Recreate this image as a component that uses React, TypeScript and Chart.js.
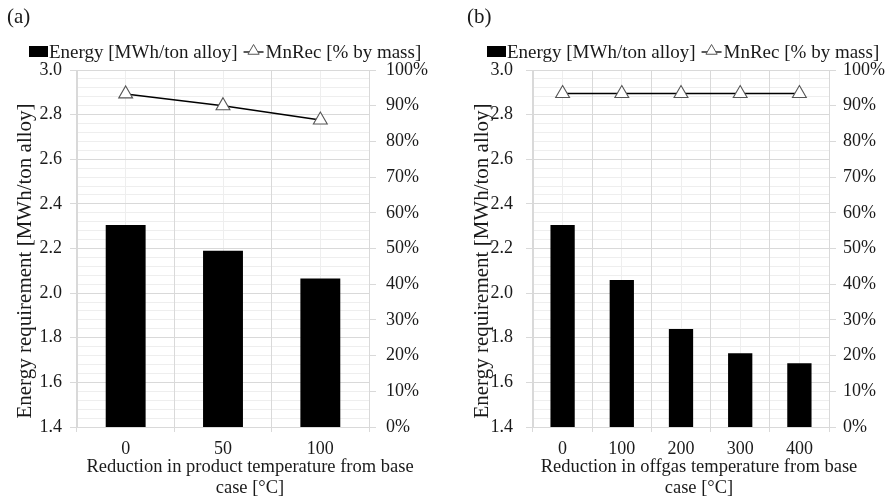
import React, { useEffect, useRef } from "react";
import { Chart, registerables } from "chart.js";

Chart.register(...registerables);

// ---------- data ----------
const categoriesA = ["0", "50", "100"];
const energyA = [2.305, 2.19, 2.066];
const mnRecA = [93.3, 90.0, 86.0];

const categoriesB = ["0", "100", "200", "300", "400"];
const energyB = [2.305, 2.059, 1.839, 1.73, 1.686];
const mnRecB = [93.4, 93.4, 93.4, 93.4, 93.4];

const energyMin = 1.4;
const energyMax = 3.0;
const energyStep = 0.2;
const pctMin = 0;
const pctMax = 100;
const pctStep = 10;

const legendEnergy = "Energy [MWh/ton alloy]";
const legendMnRec = "MnRec [% by mass]";
const yTitle = "Energy requirement [MWh/ton alloy]";
const xTitleA = ["Reduction in product temperature from base", "case [°C]"];
const xTitleB = ["Reduction in offgas temperature from base", "case [°C]"];

const FONT = "'Liberation Serif', 'DejaVu Serif', serif";
const TEXT = "#1a1a1a";
const MAJOR = "#d9d9d9";
const MINOR = "#eeeeee";

type PanelProps = {
  label: string;
  categories: string[];
  energy: number[];
  mnRec: number[];
  xTitle: string[];
  width: number;
  left: number;
  plotLeft: number;
  plotRight: number;
  leftPad: number;
  rightPad: number;
  yTitleX: number;
  xTitleX: number;
  legendX: number;
  labelX: number;
};

function Panel(p: PanelProps) {
  const ref = useRef<HTMLCanvasElement | null>(null);
  useEffect(() => {
    const canvas = ref.current;
    if (!canvas) return;
    const H = 498;
    const plotTop = 70;
    const plotBottom = 427;
    let chart: any = null;
    let cancelled = false;

    const textPlugin = {
      id: "texts",
      beforeDraw(c: any) {
        const ctx = c.ctx;
        ctx.save();
        ctx.fillStyle = "#fff";
        ctx.fillRect(0, 0, c.width, c.height);
        ctx.restore();
      },
      afterDraw(c: any) {
        const ctx = c.ctx as CanvasRenderingContext2D;
        ctx.save();
        ctx.fillStyle = TEXT;
        ctx.font = `21px ${FONT}`;
        ctx.textAlign = "left";
        ctx.textBaseline = "middle";
        ctx.fillText(p.label, p.labelX, 17);

        ctx.font = `19px ${FONT}`;
        ctx.textBaseline = "alphabetic";
        let x = p.legendX;
        const base = 58;
        ctx.fillStyle = "#000";
        ctx.fillRect(x, 46, 19, 11);
        x += 20;
        ctx.fillStyle = TEXT;
        ctx.fillText(legendEnergy, x, base);
        x += ctx.measureText(legendEnergy).width + 6;
        ctx.strokeStyle = "#000";
        ctx.lineWidth = 1.3;
        ctx.beginPath();
        ctx.moveTo(x, 52);
        ctx.lineTo(x + 20, 52);
        ctx.stroke();
        const cx = x + 10, cy = 51, r = 6.5;
        ctx.beginPath();
        ctx.moveTo(cx, cy - r);
        ctx.lineTo(cx + r * 0.866, cy + r * 0.5);
        ctx.lineTo(cx - r * 0.866, cy + r * 0.5);
        ctx.closePath();
        ctx.fillStyle = "#fff";
        ctx.fill();
        ctx.strokeStyle = "#555";
        ctx.lineWidth = 1;
        ctx.stroke();
        x += 22;
        ctx.fillStyle = TEXT;
        ctx.fillText(legendMnRec, x, base);

        ctx.save();
        ctx.font = `21px ${FONT}`;
        ctx.translate(p.yTitleX, 261);
        ctx.rotate(-Math.PI / 2);
        ctx.textAlign = "center";
        ctx.textBaseline = "middle";
        ctx.fillText(yTitle, 0, 0);
        ctx.restore();

        ctx.font = `18.5px ${FONT}`;
        ctx.textAlign = "center";
        ctx.textBaseline = "middle";
        ctx.fillText(p.xTitle[0], p.xTitleX, 467);
        ctx.fillText(p.xTitle[1], p.xTitleX, 488);
        ctx.restore();
      },
    };

    const tickFont = { family: FONT, size: 18 };

    const build = () => {
      if (cancelled) return;
      chart = new Chart(canvas, {
        type: "bar",
        data: {
          labels: p.categories,
          datasets: [
            {
              type: "line",
              label: legendMnRec,
              data: p.mnRec,
              yAxisID: "y1",
              xAxisID: "x",
              borderColor: "#000",
              borderWidth: 1.5,
              pointStyle: "triangle",
              pointRadius: 8,
              pointBackgroundColor: "#fff",
              pointBorderColor: "#555",
              pointBorderWidth: 1.1,
              tension: 0,
              order: 0,
            } as any,
            {
              type: "bar",
              label: legendEnergy,
              data: p.energy,
              yAxisID: "y",
              xAxisID: "x",
              backgroundColor: "#000",
              borderWidth: 0,
              categoryPercentage: 0.41,
              barPercentage: 1.0,
              order: 1,
            } as any,
          ],
        },
        options: {
          responsive: false,
          animation: false,
          layout: { padding: { top: plotTop, left: 0, right: 0, bottom: 0 } },
          plugins: {
            legend: { display: false },
            tooltip: { enabled: false },
            title: { display: false },
          },
          scales: {
            x: {
              type: "category",
              offset: true,
              grid: { offset: true, color: MAJOR, tickLength: 5, lineWidth: 1 },
              border: { color: MAJOR },
              ticks: { font: tickFont, color: TEXT, padding: 6, maxRotation: 0 },
              afterFit: (s: any) => {
                s.height = H - plotBottom;
              },
            },
            xc: {
              type: "category",
              position: "bottom",
              offset: true,
              grid: { offset: false, color: MINOR, drawTicks: false, z: -2 },
              border: { display: false },
              ticks: { display: false },
              afterFit: (s: any) => {
                s.height = 0;
              },
            },
            ym: {
              type: "linear",
              position: "left",
              min: 0,
              max: Math.round((energyMax - energyMin) / 0.04),
              ticks: { display: false, stepSize: 1 },
              grid: { color: MINOR, drawTicks: false, z: -2 },
              border: { display: false },
              afterFit: (s: any) => {
                s.width = 0;
              },
            },
            y: {
              type: "linear",
              position: "left",
              min: energyMin,
              max: energyMax,
              ticks: {
                stepSize: energyStep,
                font: tickFont,
                color: TEXT,
                padding: p.leftPad,
                callback: (v: any) => Number(v).toFixed(1),
              },
              grid: { color: MAJOR, tickLength: 7, z: -1 },
              border: { color: MAJOR },
              afterFit: (s: any) => {
                s.width = p.plotLeft;
              },
            },
            y1: {
              type: "linear",
              position: "right",
              min: pctMin,
              max: pctMax,
              ticks: {
                stepSize: pctStep,
                font: tickFont,
                color: TEXT,
                padding: p.rightPad,
                callback: (v: any) => `${v}%`,
              },
              grid: { drawOnChartArea: false, color: MAJOR, tickLength: 7 },
              border: { color: MAJOR },
              afterFit: (s: any) => {
                s.width = p.width - p.plotRight;
              },
            },
          } as any,
        },
        plugins: [textPlugin],
      });
    };

    const fonts: any = (document as any).fonts;
    if (fonts && fonts.load) {
      Promise.all([fonts.load(`18px 'Liberation Serif'`)])
        .catch(() => null)
        .then(build);
    } else {
      build();
    }
    return () => {
      cancelled = true;
      if (chart) chart.destroy();
    };
  }, []);

  return (
    <canvas
      ref={ref}
      width={p.width}
      height={498}
      style={{ position: "absolute", left: p.left, top: 0, width: p.width, height: 498 }}
    />
  );
}

export default function App() {
  return (
    <div style={{ position: "absolute", left: 0, top: 0, width: 889, height: 498, background: "#fff" }}>
      <Panel
        label="(a)"
        categories={categoriesA}
        energy={energyA}
        mnRec={mnRecA}
        xTitle={xTitleA}
        width={444}
        left={0}
        plotLeft={77}
        plotRight={369}
        leftPad={8}
        rightPad={10}
        yTitleX={25}
        xTitleX={250}
        legendX={29}
        labelX={7}
      />
      <Panel
        label="(b)"
        categories={categoriesB}
        energy={energyB}
        mnRec={mnRecB}
        xTitle={xTitleB}
        width={445}
        left={444}
        plotLeft={89}
        plotRight={385}
        leftPad={13}
        rightPad={7}
        yTitleX={38}
        xTitleX={255}
        legendX={43}
        labelX={23}
      />
    </div>
  );
}
